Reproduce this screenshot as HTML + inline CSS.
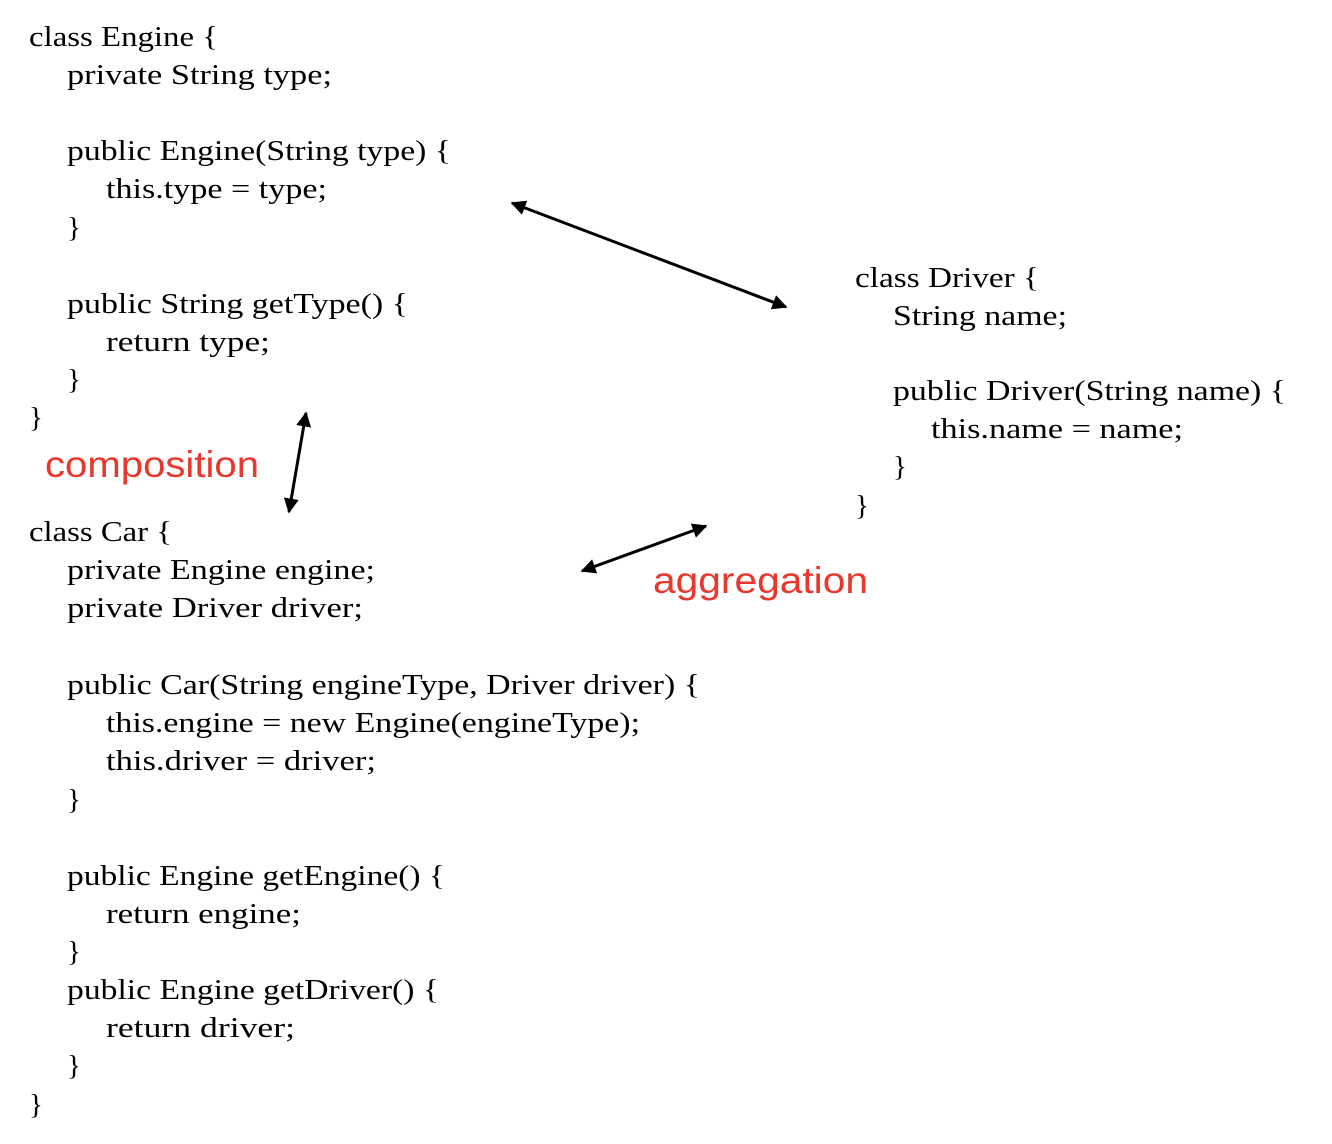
<!DOCTYPE html>
<html><head><meta charset="utf-8"><style>
html,body{margin:0;padding:0;background:#fff;}
svg{display:block}
.c{font-family:"Liberation Serif",serif;font-size:29px;fill:#000}
.r{font-family:"Liberation Sans",sans-serif;font-size:37px;fill:#e8372c}
</style></head><body>
<svg width="1332" height="1144" viewBox="0 0 1332 1144" xmlns="http://www.w3.org/2000/svg">
<defs><marker id="a" viewBox="0 0 10 10" refX="9" refY="5" markerWidth="5" markerHeight="5" orient="auto-start-reverse"><path d="M0,0 L10,5 L0,10 z" fill="#000"/></marker></defs>
<g class="c" lengthAdjust="spacingAndGlyphs">
<text x="29" y="46" textLength="189" lengthAdjust="spacingAndGlyphs">class Engine {</text>
<text x="67" y="84" textLength="265" lengthAdjust="spacingAndGlyphs">private String type;</text>
<text x="67" y="160" textLength="384" lengthAdjust="spacingAndGlyphs">public Engine(String type) {</text>
<text x="106" y="198" textLength="221" lengthAdjust="spacingAndGlyphs">this.type = type;</text>
<text x="67" y="237">}</text>
<text x="67" y="313" textLength="341" lengthAdjust="spacingAndGlyphs">public String getType() {</text>
<text x="106" y="351" textLength="164" lengthAdjust="spacingAndGlyphs">return type;</text>
<text x="67" y="389">}</text>
<text x="29" y="427">}</text>
<text x="29" y="541" textLength="143" lengthAdjust="spacingAndGlyphs">class Car {</text>
<text x="67" y="579" textLength="308" lengthAdjust="spacingAndGlyphs">private Engine engine;</text>
<text x="67" y="617" textLength="296" lengthAdjust="spacingAndGlyphs">private Driver driver;</text>
<text x="67" y="694" textLength="633" lengthAdjust="spacingAndGlyphs">public Car(String engineType, Driver driver) {</text>
<text x="106" y="732" textLength="534" lengthAdjust="spacingAndGlyphs">this.engine = new Engine(engineType);</text>
<text x="106" y="770" textLength="270" lengthAdjust="spacingAndGlyphs">this.driver = driver;</text>
<text x="67" y="809">}</text>
<text x="67" y="885" textLength="378" lengthAdjust="spacingAndGlyphs">public Engine getEngine() {</text>
<text x="106" y="923" textLength="195" lengthAdjust="spacingAndGlyphs">return engine;</text>
<text x="67" y="961">}</text>
<text x="67" y="999" textLength="372" lengthAdjust="spacingAndGlyphs">public Engine getDriver() {</text>
<text x="106" y="1037" textLength="189" lengthAdjust="spacingAndGlyphs">return driver;</text>
<text x="67" y="1075">}</text>
<text x="29" y="1114">}</text>
<text x="855" y="287" textLength="184" lengthAdjust="spacingAndGlyphs">class Driver {</text>
<text x="893" y="325" textLength="174" lengthAdjust="spacingAndGlyphs">String name;</text>
<text x="893" y="400" textLength="393" lengthAdjust="spacingAndGlyphs">public Driver(String name) {</text>
<text x="931" y="438" textLength="252" lengthAdjust="spacingAndGlyphs">this.name = name;</text>
<text x="893" y="476">}</text>
<text x="855" y="515">}</text>
</g>
<text class="r" x="45" y="477" textLength="214" lengthAdjust="spacingAndGlyphs">composition</text>
<text class="r" x="653" y="593" textLength="215" lengthAdjust="spacingAndGlyphs">aggregation</text>
<g stroke="#000" stroke-width="3" marker-start="url(#a)" marker-end="url(#a)">
<line x1="512" y1="203" x2="786" y2="307"/>
<line x1="306" y1="413" x2="289" y2="512"/>
<line x1="582" y1="571" x2="706" y2="526"/>
</g>
</svg>
</body></html>
